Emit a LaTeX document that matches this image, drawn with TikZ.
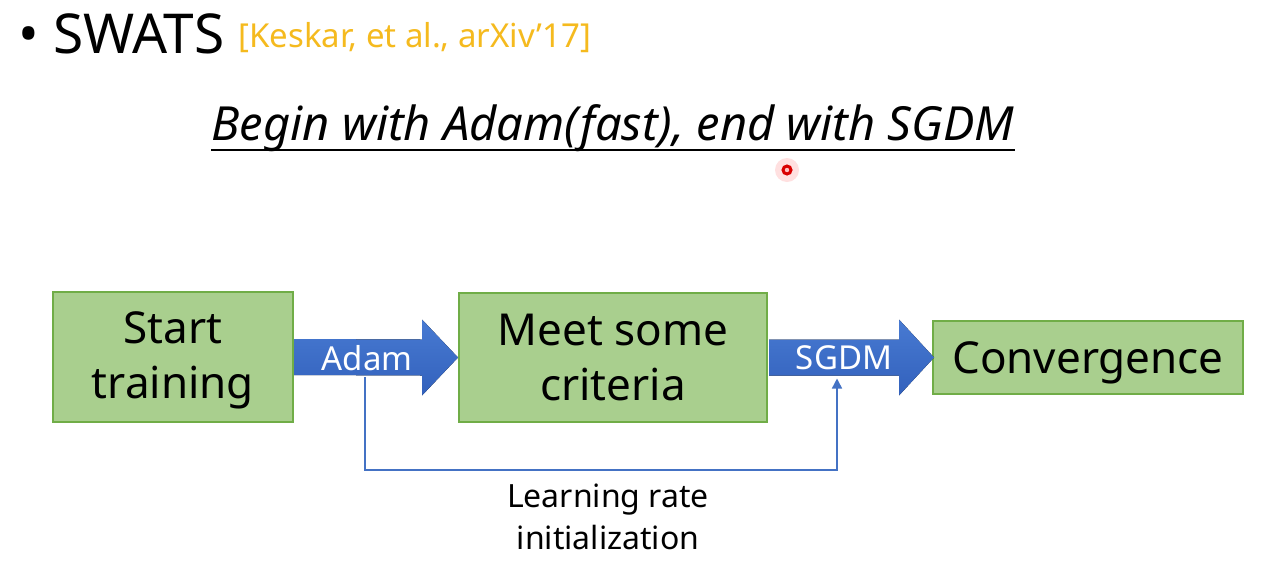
\documentclass[tikz,border=0pt]{standalone}
\usepackage{fontspec}
\setmainfont{Noto Sans}
\usetikzlibrary{calc,arrows.meta}
\definecolor{boxfill}{RGB}{169,207,142}
\definecolor{boxline}{RGB}{112,173,71}
\definecolor{arrtop}{RGB}{72,122,210}
\definecolor{arrbot}{RGB}{50,97,188}
\definecolor{fbline}{RGB}{68,114,196}
\definecolor{cite}{RGB}{245,186,30}
\tikzset{
  greenbox/.style={draw=boxline, fill=boxfill, line width=1pt, inner sep=0pt, align=center,
    font=\fontsize{22}{27.5}\selectfont},
  blockarrow/.style={top color=arrtop, bottom color=arrbot, draw=none},
  arrlabel/.style={text=white, inner sep=3pt, font=\fontsize{16.5}{20}\selectfont},
  fb/.style={draw=fbline, line width=0.75pt, -{Triangle[width=5pt,length=5pt]}},
}
\begin{document}
\begin{tikzpicture}[x=0.5pt,y=-0.5pt]
\useasboundingbox (0,0) rectangle (1270,574);
\fill[white] (0,0) rectangle (1270,574);
% title
\node[anchor=base west, inner sep=0pt, font=\fontsize{27.5}{30}\selectfont] (title) at (18,53) {• SWATS};
\node[anchor=base west, inner sep=0pt, text=cite, font=\fontsize{16.5}{19}\selectfont] (cit) at (238,47) {[Keskar, et al., arXiv’17]};
\node[anchor=base, inner sep=0pt, font=\fontsize{23.5}{26}\selectfont\itshape] (sub) at (613,140) {Begin with Adam(fast), end with SGDM};
\draw[line width=1pt] ($(sub.base west)+(0,10)$) coordinate (ul1) -- ($(sub.base east)+(0,10)$) coordinate (ul2);
% laser pointer dot
\fill[red!12] (787,170) circle (6pt);
\fill[red!85!black] (787,170) circle (2.8pt);
\fill[red!25!white] (787,170) circle (1.1pt);
% boxes
\node[greenbox, minimum width=120pt, minimum height=65pt] (st) at (173,357) {\rule{0pt}{19pt}Start\\training};
\node[greenbox, minimum width=154pt, minimum height=64.5pt] (mc) at (613,357.5) {Meet some\\criteria};
\node[greenbox, minimum width=155pt, minimum height=36.5pt] (cv) at (1088,357.5) {\rule{0pt}{21pt}Convergence};
% block arrows
\fill[blockarrow] ($(st.east)+(0,-18)$) -- ($(mc.west)+(-36,-18)$) -- ($(mc.west)+(-36,-38)$) -- (mc.west)
  -- ($(mc.west)+(-36,38)$) -- ($(mc.west)+(-36,18)$) -- ($(st.east)+(0,18)$) -- cycle;
\fill[blockarrow] ($(mc.east)+(1,-18)$) -- ($(cv.west)+(-33,-18)$) -- ($(cv.west)+(-33,-38)$) -- ($(cv.west)+(2,0)$)
  -- ($(cv.west)+(-33,38)$) -- ($(cv.west)+(-33,18)$) -- ($(mc.east)+(1,18)$) -- cycle;
\node[arrlabel] (ad) at (367,358) {Adam};
\node[arrlabel] (sg) at (844,358) {SGDM};
% feedback line
\coordinate (fbs) at ($(ad.south)+(-2,0)$);
\coordinate (fbe) at ($(sg.south)+(-7,2)$);
\draw[fb] (fbs) -- (fbs |- 0,470) -| (fbe);
\node[align=center, inner sep=0pt, font=\fontsize{16}{21}\selectfont] (lr) at (608,517) {Learning rate\\initialization};
\end{tikzpicture}
\end{document}
